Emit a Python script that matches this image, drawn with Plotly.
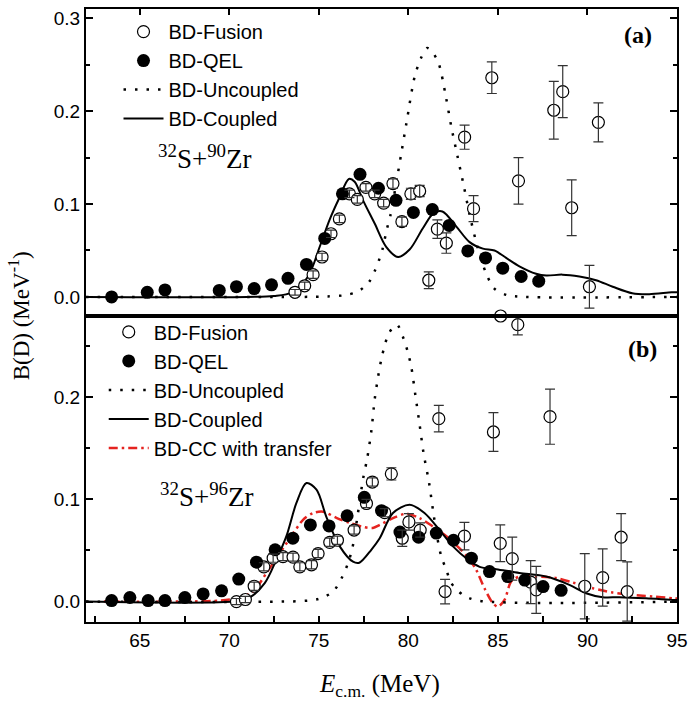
import plotly.graph_objects as go

# ---------------- 32S + 90Zr : panel (a) ----------------
a_fus_e = [73.67, 74.21, 74.68, 75.18, 75.68, 76.15, 76.71, 77.15, 77.63, 78.12, 78.62,
           79.14, 79.64, 80.14, 80.63, 81.14, 81.62, 82.12, 83.14, 83.64, 84.66, 86.15,
           88.12, 88.62, 89.12, 90.11, 90.61]
a_fus_b = [0.005, 0.012, 0.024, 0.043, 0.068, 0.084, 0.111, 0.105, 0.118, 0.111, 0.101,
           0.122, 0.081, 0.111, 0.114, 0.018, 0.073, 0.058, 0.172, 0.095, 0.236, 0.125,
           0.201, 0.221, 0.096, 0.011, 0.188]
a_fus_err = [0.003, 0.004, 0.004, 0.004, 0.004, 0.004, 0.004, 0.004, 0.004, 0.004, 0.004,
             0.005, 0.005, 0.006, 0.006, 0.009, 0.010, 0.011, 0.013, 0.014, 0.017, 0.025,
             0.031, 0.028, 0.030, 0.023, 0.021]

a_qel_e = [63.43, 65.42, 66.41, 69.44, 70.4, 71.39, 72.36, 73.28, 74.31, 75.33, 76.32,
           77.3, 78.33, 79.31, 80.28, 81.34, 82.28, 83.32, 84.31, 85.27, 86.3, 87.28]
a_qel_b = [0.0, 0.005, 0.0075, 0.007, 0.011, 0.009, 0.013, 0.020, 0.035, 0.063, 0.111,
           0.132, 0.117, 0.104, 0.091, 0.094, 0.077, 0.0495, 0.042, 0.031, 0.022, 0.017]

a_unc_e = [62, 74.0, 75.5, 76.5, 77.2, 77.8, 78.1, 78.35, 78.55, 78.8, 79.0, 79.3, 79.6,
           79.9, 80.35, 80.7, 81.05, 81.3, 81.7, 82.1, 82.4, 82.75, 83.1, 83.45, 83.9,
           84.35, 84.8, 85.5, 86.5, 95]
a_unc_b = [0, 0, 0.0005, 0.002, 0.006, 0.016, 0.027, 0.039, 0.051, 0.073, 0.088, 0.12,
           0.154, 0.188, 0.237, 0.257, 0.268, 0.265, 0.251, 0.215, 0.183, 0.151, 0.119,
           0.086, 0.051, 0.025, 0.009, 0.002, 0.0, 0.0]

a_cpl_e = [62, 71.0, 72.5, 73.5, 74.4, 75.05, 75.6, 76.13, 76.68, 77.0, 77.47, 78.12,
           78.76, 79.42, 80.07, 80.81, 81.4, 81.9, 82.67, 83.42, 84.16, 84.81, 85.46,
           86.2, 87.13, 87.7, 88.6, 89.55, 90.48, 91.41, 92.5, 93.45, 94.7, 95]
a_cpl_b = [0, 0, 0.001, 0.005, 0.022, 0.054, 0.083, 0.106, 0.127, 0.124, 0.104, 0.079,
           0.054, 0.043, 0.051, 0.074, 0.090, 0.092, 0.076, 0.059, 0.052, 0.050, 0.042,
           0.033, 0.025, 0.023, 0.024, 0.022, 0.018, 0.011, 0.004, 0.003, 0.005, 0.005]

# ---------------- 32S + 96Zr : panel (b) ----------------
b_fus_e = [70.4, 70.9, 71.39, 71.93, 72.45, 73.0, 73.56, 73.94, 74.59, 74.96, 75.61,
           76.04, 76.97, 77.66, 77.99, 78.68, 79.05, 79.66, 80.03, 80.66, 81.7, 82.05,
           83.13, 84.75, 85.13, 85.15, 85.8, 86.11, 86.83, 87.14, 87.91, 89.85, 90.85,
           91.88, 92.22]
b_fus_b = [0.0, 0.002, 0.015, 0.034, 0.0425, 0.044, 0.0435, 0.034, 0.036, 0.047, 0.058,
           0.060, 0.070, 0.096, 0.117, 0.087, 0.125, 0.062, 0.078, 0.070, 0.179, 0.0098,
           0.064, 0.166, 0.057, 0.2795, 0.042, 0.271, 0.019, 0.0115, 0.181, 0.015, 0.0235,
           0.063, 0.0098]
b_fus_err = [0.003, 0.003, 0.004, 0.004, 0.004, 0.004, 0.004, 0.004, 0.004, 0.004, 0.004,
             0.004, 0.004, 0.004, 0.004, 0.004, 0.006, 0.008, 0.008, 0.007, 0.013, 0.012,
             0.0135, 0.019, 0.018, 0.0, 0.021, 0.010, 0.021, 0.023, 0.027, 0.032, 0.028,
             0.023, 0.029]

b_qel_e = [63.43, 64.45, 65.47, 66.41, 67.52, 68.54, 69.57, 70.53, 71.52, 72.56, 73.55,
           74.53, 75.57, 76.58, 77.54, 78.5, 79.53, 80.57, 81.56, 82.52, 83.52, 84.53,
           85.55, 86.5, 87.52, 88.53]
b_qel_b = [0.001, 0.004, 0.001, 0.001, 0.004, 0.0075, 0.0105, 0.022, 0.0386, 0.0507,
           0.062, 0.075, 0.074, 0.084, 0.102, 0.089, 0.068, 0.063, 0.067, 0.060, 0.0425,
           0.0294, 0.0245, 0.021, 0.0147, 0.011]

b_unc_e = [62, 74.0, 75.0, 75.8, 76.32, 76.63, 76.87, 77.13, 77.47, 77.7, 77.94, 78.12,
           78.31, 78.5, 78.7, 78.92, 79.36, 79.74, 79.98, 80.17, 80.4, 80.63, 80.85, 81.15,
           81.37, 81.6, 81.84, 82.12, 82.4, 83.04, 83.88, 95]
b_unc_b = [0, 0.0005, 0.0026, 0.0098, 0.0245, 0.0376, 0.052, 0.080, 0.12, 0.14, 0.168,
           0.198, 0.22, 0.238, 0.252, 0.263, 0.271, 0.257, 0.2435, 0.229, 0.201, 0.173,
           0.145, 0.117, 0.090, 0.064, 0.044, 0.031, 0.018, 0.0066, 0.001, 0.0]

b_cpl_e = [62, 70.5, 71.15, 71.98, 72.63, 73.19, 73.75, 74.31, 74.87, 75.42, 76.17, 76.91,
           77.26, 77.93, 78.4, 79.14, 80.07, 80.9, 81.74, 82.49, 83.33, 83.98, 84.9, 86.2,
           87.69, 88.99, 89.92, 90.85, 91.78, 93.27, 94.85, 95]
b_cpl_b = [0, 0.0005, 0.004, 0.018, 0.041, 0.064, 0.0965, 0.116, 0.1095, 0.083, 0.054,
           0.039, 0.038, 0.0507, 0.062, 0.0867, 0.0948, 0.0867, 0.070, 0.054, 0.041, 0.034,
           0.0317, 0.028, 0.0245, 0.0164, 0.0082, 0.0043, 0.0043, 0.0033, 0.0016, 0.0016]

b_cct_e = [63, 69.5, 70.6, 71.33, 72.08, 72.82, 73.47, 74.12, 74.68, 75.24, 75.98, 76.72,
           77.38, 78.02, 78.4, 79.14, 79.88, 80.63, 81.37, 82.12, 82.86, 83.42, 83.79,
           84.25, 84.72, 85.0, 85.37, 85.74, 86.2, 87.13, 88.25, 89.18, 90.3, 91.41,
           92.53, 93.64, 94.76, 95]
b_cct_b = [0, 0.001, 0.004, 0.0098, 0.028, 0.0474, 0.064, 0.080, 0.0867, 0.088, 0.082,
           0.077, 0.0735, 0.072, 0.075, 0.0817, 0.086, 0.0817, 0.0735, 0.064, 0.052, 0.041,
           0.031, 0.013, -0.0016, -0.005, 0.0016, 0.0196, 0.0245, 0.0245, 0.023, 0.0186,
           0.013, 0.0088, 0.0066, 0.005, 0.0033, 0.003]

x_range = [62, 95]
ya_range = [-0.02, 0.31]
yb_range = [-0.02, 0.28]

SANS = "Liberation Sans, Arial, sans-serif"
SERIF = "Liberation Serif, Times New Roman, serif"

DOT = "2.5px,9px"
DASHDOT = "9px,4px,2.5px,4px"
RED = "#e5231f"
ERRC = "#333333"

fig = go.Figure()


def add_panel(xa, ya, leg, fus_e, fus_b, fus_err, qel_e, qel_b, unc_e, unc_b,
              cpl_e, cpl_b, clip=True):
    fig.add_trace(go.Scatter(x=unc_e, y=unc_b, mode="lines", name="BD-Uncoupled",
                             line=dict(color="black", width=2.5, dash=DOT, shape="spline",
                                       smoothing=0.8),
                             xaxis=xa, yaxis=ya, legend=leg, legendrank=3))
    fig.add_trace(go.Scatter(x=cpl_e, y=cpl_b, mode="lines", name="BD-Coupled",
                             line=dict(color="black", width=2, shape="spline", smoothing=0.9),
                             xaxis=xa, yaxis=ya, legend=leg, legendrank=4))
    fig.add_trace(go.Scatter(x=fus_e, y=fus_b, mode="markers", name="BD-Fusion",
                             marker=dict(symbol="circle", size=12, color="white",
                                         line=dict(color="black", width=1.2)),
                             cliponaxis=clip, xaxis=xa, yaxis=ya, legend=leg, legendrank=1))
    fig.add_trace(go.Scatter(x=qel_e, y=qel_b, mode="markers", name="BD-QEL",
                             marker=dict(symbol="circle", size=13, color="black",
                                         line=dict(color="black", width=0)),
                             xaxis=xa, yaxis=ya, legend=leg, legendrank=2))
    # fusion error bars drawn above the open symbols
    fig.add_trace(go.Scatter(x=fus_e, y=fus_b, mode="markers", showlegend=False,
                             marker=dict(size=2, opacity=0),
                             error_y=dict(type="data", array=fus_err, visible=True,
                                          color=ERRC, thickness=1.2, width=5),
                             cliponaxis=clip, xaxis=xa, yaxis=ya, hoverinfo="skip"))


add_panel("x2", "y2", "legend", a_fus_e, a_fus_b, a_fus_err, a_qel_e, a_qel_b,
          a_unc_e, a_unc_b, a_cpl_e, a_cpl_b)
fig.add_trace(go.Scatter(x=b_cct_e, y=b_cct_b, mode="lines", name="BD-CC with transfer",
                         line=dict(color=RED, width=2.5, dash=DASHDOT, shape="spline",
                                   smoothing=0.8),
                         xaxis="x", yaxis="y", legend="legend2", legendrank=5))
add_panel("x", "y", "legend2", b_fus_e, b_fus_b, b_fus_err, b_qel_e, b_qel_b,
          b_unc_e, b_unc_b, b_cpl_e, b_cpl_b, clip=False)

tickfont = dict(family=SANS, size=19, color="black")
common_x = dict(range=x_range, showgrid=False, zeroline=False, showline=True,
                linecolor="black", linewidth=2, mirror=True, dtick=5, tick0=60,
                ticks="inside", ticklen=6, tickwidth=1.5, tickcolor="black",
                tickfont=tickfont, automargin=False)
common_y = dict(showgrid=False, zeroline=False, showline=True, linecolor="black",
                linewidth=2, mirror="ticks", dtick=0.1, tick0=0, tickformat=".1f",
                ticks="inside", ticklen=7, tickwidth=1.5, tickcolor="black",
                tickfont=tickfont, automargin=False,
                minor=dict(dtick=0.05, ticks="inside", ticklen=4, tickwidth=1.5,
                           tickcolor="black"))

legend_common = dict(font=dict(family=SANS, size=20, color="black"),
                     bgcolor="rgba(0,0,0,0)", borderwidth=0, xanchor="left",
                     yanchor="top", itemwidth=40, tracegroupgap=0)

fig.update_layout(
    width=688, height=705,
    margin=dict(l=86, r=11, t=9, b=83, autoexpand=False),
    plot_bgcolor="white", paper_bgcolor="white",
    showlegend=True,
    xaxis=dict(common_x, anchor="y", domain=[0, 1], side="bottom",
               minor=dict(dtick=2.5, ticks="inside", ticklen=6, tickwidth=1.5,
                          tickcolor="black")),
    xaxis2=dict(common_x, anchor="y2", domain=[0, 1], side="top", matches="x",
                showticklabels=False),
    yaxis=dict(common_y, domain=[0, 0.5], range=yb_range, anchor="x"),
    yaxis2=dict(common_y, domain=[0.5, 1], range=ya_range, anchor="x2"),
    legend=dict(legend_common, x=0.055, y=0.995),
    legend2=dict(legend_common, x=0.03, y=0.505),
    annotations=[
        dict(text="<b>(a)</b>", x=0.934, y=0.958, xref="paper", yref="paper",
             xanchor="center", yanchor="middle", showarrow=False,
             font=dict(family=SERIF, size=24, color="black")),
        dict(text="<b>(b)</b>", x=0.941, y=0.445, xref="paper", yref="paper",
             xanchor="center", yanchor="middle", showarrow=False,
             font=dict(family=SERIF, size=24, color="black")),
        dict(text="<sup>32</sup>S+<sup>90</sup>Zr", x=0.201, y=0.759, xref="paper",
             yref="paper", xanchor="center", yanchor="middle", showarrow=False,
             font=dict(family=SERIF, size=27, color="black")),
        dict(text="<sup>32</sup>S+<sup>96</sup>Zr", x=0.205, y=0.207, xref="paper",
             yref="paper", xanchor="center", yanchor="middle", showarrow=False,
             font=dict(family=SERIF, size=27, color="black")),
        dict(text="B(D) (MeV<sup>-1</sup>)", x=-0.112, y=0.5, xref="paper",
             yref="paper", xanchor="center", yanchor="middle", textangle=-90,
             showarrow=False, font=dict(family=SERIF, size=23, color="black")),
        dict(text="<i>E</i><sub>c.m.</sub> (MeV)", x=0.497, y=-0.103, xref="paper",
             yref="paper", xanchor="center", yanchor="middle", showarrow=False,
             font=dict(family=SERIF, size=25, color="black")),
    ],
)

fig.write_html("out.html")
